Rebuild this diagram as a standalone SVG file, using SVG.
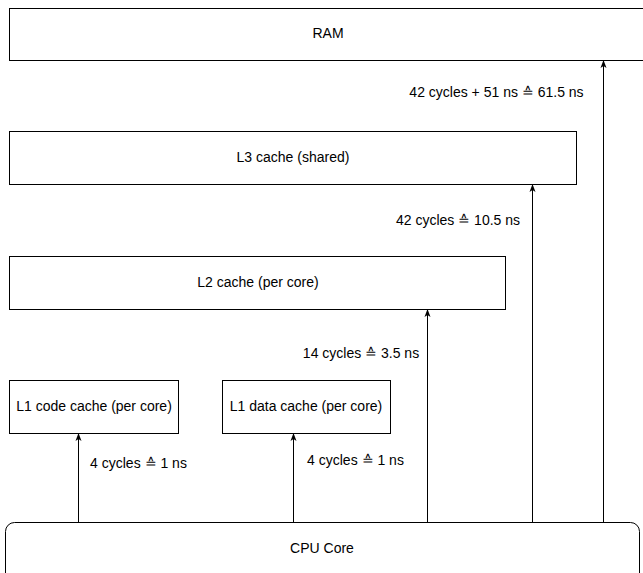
<svg xmlns="http://www.w3.org/2000/svg" width="643" height="573" viewBox="0 0 643 573">
<style>
.box{fill:#fff;stroke:#000;stroke-width:1}
.t{font-family:"Liberation Sans",Arial,sans-serif;font-size:14px;fill:#000;text-anchor:middle}
.c{stroke:#000;stroke-width:1;fill:none;marker-end:url(#ah)}
</style>
<defs>
<marker id="ah" markerWidth="8" markerHeight="8" viewBox="0 0 8 8" refX="7" refY="4" orient="auto" markerUnits="userSpaceOnUse">
<path d="M0,1 L8,4 L0,7 L2,4 Z" fill="#000"/>
</marker>
</defs>
<rect width="643" height="573" fill="#fff"/>
<g id="ram"><rect class="box" x="9.5" y="8.5" width="640" height="52"/><text class="t" x="328" y="38">RAM</text></g>
<g id="l3"><rect class="box" x="9.5" y="131.5" width="567" height="53"/><text class="t" x="293" y="162">L3 cache (shared)</text></g>
<g id="l2"><rect class="box" x="9.5" y="256.5" width="496" height="53"/><text class="t" x="258" y="287">L2 cache (per core)</text></g>
<g id="l1code"><rect class="box" x="9.5" y="380.5" width="169" height="53"/><text class="t" x="94" y="411">L1 code cache (per core)</text></g>
<g id="l1data"><rect class="box" x="222.5" y="380.5" width="168" height="53"/><text class="t" x="306" y="411">L1 data cache (per core)</text></g>
<g id="cpu"><rect class="box" x="5.5" y="522.5" width="634" height="70" rx="9"/><text class="t" x="322" y="553">CPU Core</text></g>
<g id="connectors">
<line class="c" x1="78.5" y1="522" x2="78.5" y2="434"/>
<line class="c" x1="293.5" y1="522" x2="293.5" y2="434"/>
<line class="c" x1="427.5" y1="522" x2="427.5" y2="310"/>
<line class="c" x1="532.5" y1="522" x2="532.5" y2="185"/>
<line class="c" x1="603.5" y1="522" x2="603.5" y2="61"/>
<text class="t" x="496.5" y="97">42 cycles + 51 ns ≙ 61.5 ns</text>
<text class="t" x="458" y="225">42 cycles ≙ 10.5 ns</text>
<text class="t" x="361" y="358">14 cycles ≙ 3.5 ns</text>
<text class="t" x="138.5" y="468">4 cycles ≙ 1 ns</text>
<text class="t" x="355.5" y="465">4 cycles ≙ 1 ns</text>
</g>
</svg>
